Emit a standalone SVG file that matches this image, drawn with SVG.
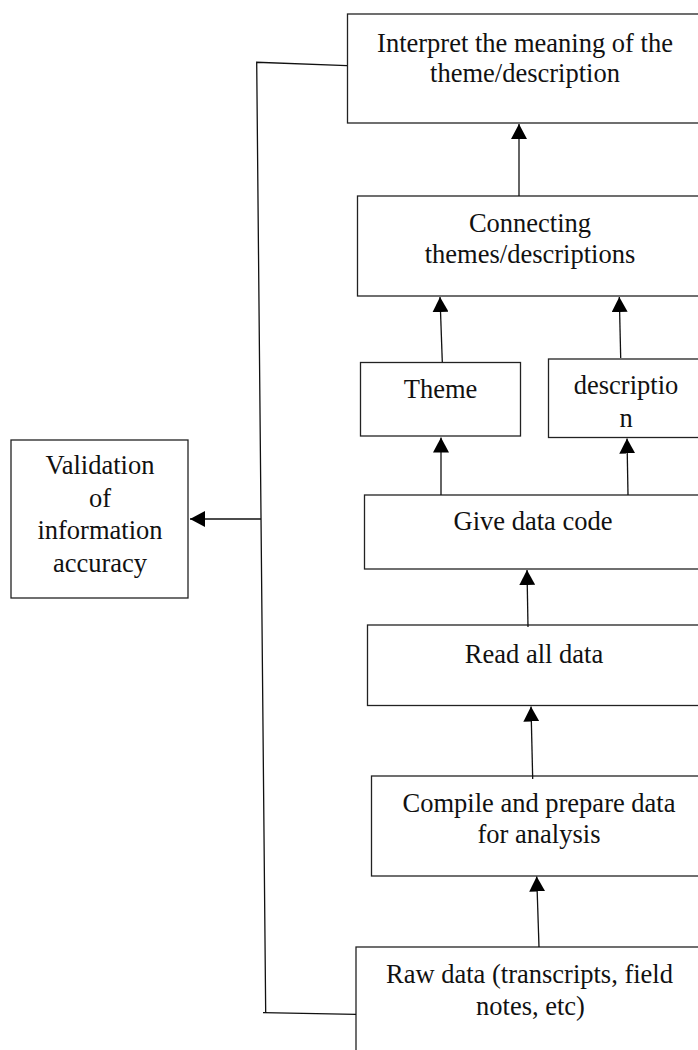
<svg xmlns="http://www.w3.org/2000/svg" width="698" height="1050" viewBox="0 0 698 1050">
<style>
.box{fill:#fff;stroke:#222;stroke-width:1.3}
.t{font-family:"Liberation Serif","Times New Roman",serif;font-size:26.5px;fill:#111;text-anchor:middle}
.c{fill:none;stroke:#111;stroke-width:1.3}
</style>
<defs>
<marker id="ah" viewBox="0 0 15 16" refX="15" refY="8" markerWidth="15" markerHeight="16" markerUnits="userSpaceOnUse" orient="auto">
<path d="M0,0 L15,8 L0,16 z" fill="#000"/>
</marker>
</defs>
<rect width="698" height="1050" fill="#fff"/>
<g id="interpret">
<rect class="box" x="347.5" y="14" width="360" height="109"/>
<text class="t" x="525" y="52">Interpret the meaning of the</text>
<text class="t" x="525" y="82">theme/description</text>
</g>
<g id="connecting">
<rect class="box" x="357.5" y="196" width="350" height="100"/>
<text class="t" x="530" y="232">Connecting</text>
<text class="t" x="530" y="263">themes/descriptions</text>
</g>
<g id="theme">
<rect class="box" x="360.5" y="362.5" width="160" height="73.5"/>
<text class="t" x="440.5" y="398">Theme</text>
</g>
<g id="description">
<rect class="box" x="548.5" y="359" width="160" height="78.5"/>
<text class="t" x="626" y="394">descriptio</text>
<text class="t" x="626" y="426.5">n</text>
</g>
<g id="givecode">
<rect class="box" x="364.5" y="495" width="340" height="74"/>
<text class="t" x="533" y="530">Give data code</text>
</g>
<g id="readall">
<rect class="box" x="367.5" y="625" width="340" height="80.5"/>
<text class="t" x="534" y="663">Read all data</text>
</g>
<g id="compile">
<rect class="box" x="371.5" y="776" width="340" height="100"/>
<text class="t" x="539" y="811.5">Compile and prepare data</text>
<text class="t" x="539" y="843">for analysis</text>
</g>
<g id="rawdata">
<rect class="box" x="356" y="947" width="350" height="120"/>
<text class="t" x="529.5" y="983">Raw data (transcripts, field</text>
<text class="t" x="530.5" y="1015">notes, etc)</text>
</g>
<g id="validation">
<rect class="box" x="11" y="440" width="177" height="158"/>
<text class="t" x="100" y="474">Validation</text>
<text class="t" x="100" y="506.5">of</text>
<text class="t" x="100" y="539">information</text>
<text class="t" x="100" y="571.5">accuracy</text>
</g>
<g id="connectors">
<path class="c" d="M347,65.7 L256.7,62.3 L265.7,1013.5 M263,1012.7 L356,1014.3"/>
<line class="c" x1="261" y1="519" x2="190" y2="519" marker-end="url(#ah)"/>
<line class="c" x1="519" y1="196" x2="519" y2="124" marker-end="url(#ah)"/>
<line class="c" x1="442.3" y1="362" x2="440" y2="297" marker-end="url(#ah)"/>
<line class="c" x1="620.7" y1="358" x2="619.3" y2="297" marker-end="url(#ah)"/>
<line class="c" x1="441" y1="495" x2="441" y2="437.5" marker-end="url(#ah)"/>
<line class="c" x1="628" y1="495" x2="627" y2="438.5" marker-end="url(#ah)"/>
<line class="c" x1="528" y1="627" x2="527" y2="570" marker-end="url(#ah)"/>
<line class="c" x1="532.7" y1="779" x2="531" y2="706.5" marker-end="url(#ah)"/>
<line class="c" x1="539" y1="947" x2="536.7" y2="876.5" marker-end="url(#ah)"/>
</g>
</svg>
